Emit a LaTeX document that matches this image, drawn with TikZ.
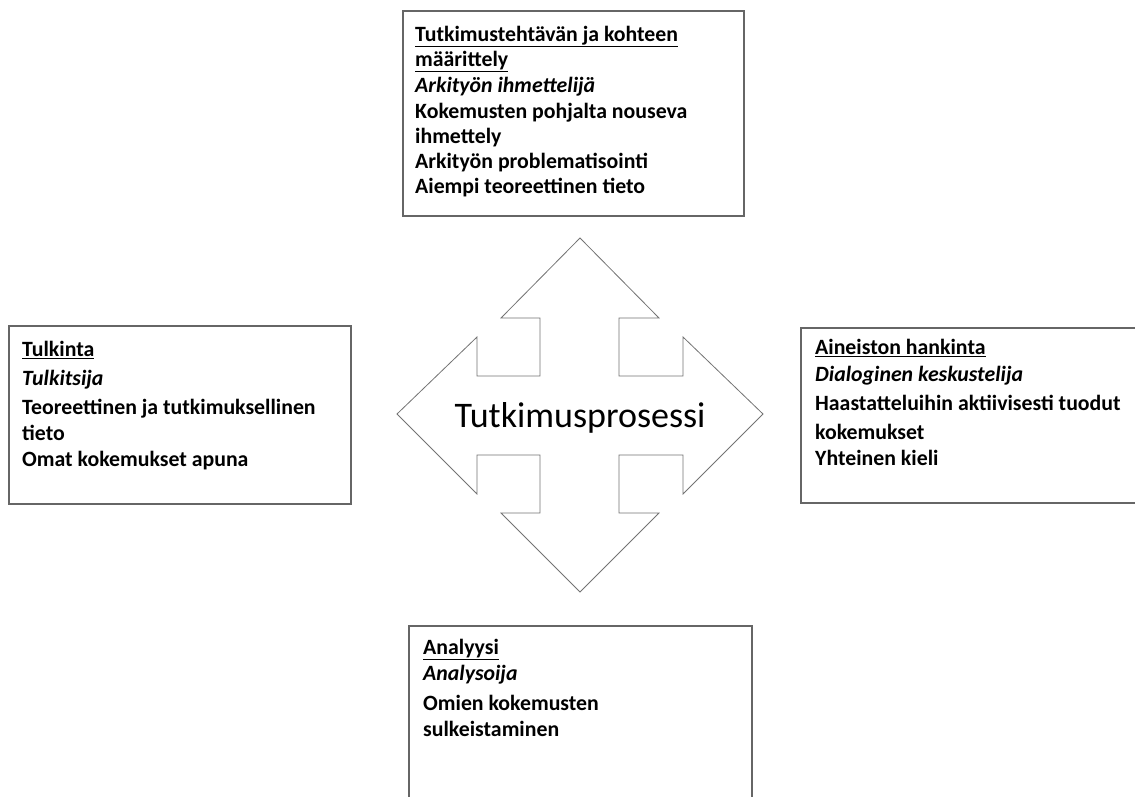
\documentclass[tikz,border=0pt]{standalone}
\usepackage{fontspec}
\setmainfont{Carlito}
\usetikzlibrary{positioning}

\tikzset{
    boxline/.style={draw=black!60, line width=1.4pt},
    boxtext/.style={anchor=north west, inner sep=0pt, align=left,
        font=\fontsize{21.8}{25}\selectfont\bfseries},
    crossline/.style={draw=black!55, line width=0.8pt, fill=white}
}

\begin{document}
\begin{tikzpicture}[x=1pt, y=-1pt]
    \useasboundingbox (0,0) rectangle (1135,796);

    % the four boxes
    \draw[boxline] (403,11) rectangle (744,216);
    \draw[boxline] (9,326) rectangle (351,504);
    \draw[boxline] (801,328) rectangle (1140,503);
    \draw[boxline] (409,626) rectangle (752,810);

    % the cross of arrows
    \coordinate (c) at (580,414);
    \draw[crossline] (580,238) -- (659,318) -- (619,318) -- (619,376) -- (683,376) -- (683,337)
        -- (763,414) -- (683,494) -- (683,455) -- (619,455) -- (619,513) -- (659,513)
        -- (580,592) -- (501,513) -- (540,513) -- (540,455) -- (477,455) -- (477,494)
        -- (397,414) -- (477,337) -- (477,376) -- (540,376) -- (540,318) -- (501,318) -- cycle;
    \node[font=\fontsize{36}{40}\selectfont] (prosessi) at (580,418) {Tutkimusprosessi};

    % texts
    \node[boxtext] (maarittely) at (415,26) {\underline{Tutkimustehtävän ja kohteen}\\
        \underline{määrittely}\\[1pt]
        \textit{Arkityön ihmettelijä}\\[1pt]
        Kokemusten pohjalta nouseva\\
        ihmettely\\
        Arkityön problematisointi\\
        Aiempi teoreettinen tieto};
    \node[boxtext] (tulkinta) at (22,341) {\underline{Tulkinta}\\[4pt]
        \textit{Tulkitsija}\\[4pt]
        Teoreettinen ja tutkimuksellinen\\[1pt]
        tieto\\[1pt]
        Omat kokemukset apuna};
    \node[boxtext] (hankinta) at (815,339) {\underline{Aineiston hankinta}\\[2pt]
        \textit{Dialoginen keskustelija}\\[4pt]
        Haastatteluihin aktiivisesti tuodut\\[4pt]
        kokemukset\\[1pt]
        Yhteinen kieli};
    \node[boxtext] (analyysi) at (423,639) {\underline{Analyysi}\\[1pt]
        \textit{Analysoija}\\[5pt]
        Omien kokemusten\\[1pt]
        sulkeistaminen};
\end{tikzpicture}
\end{document}
